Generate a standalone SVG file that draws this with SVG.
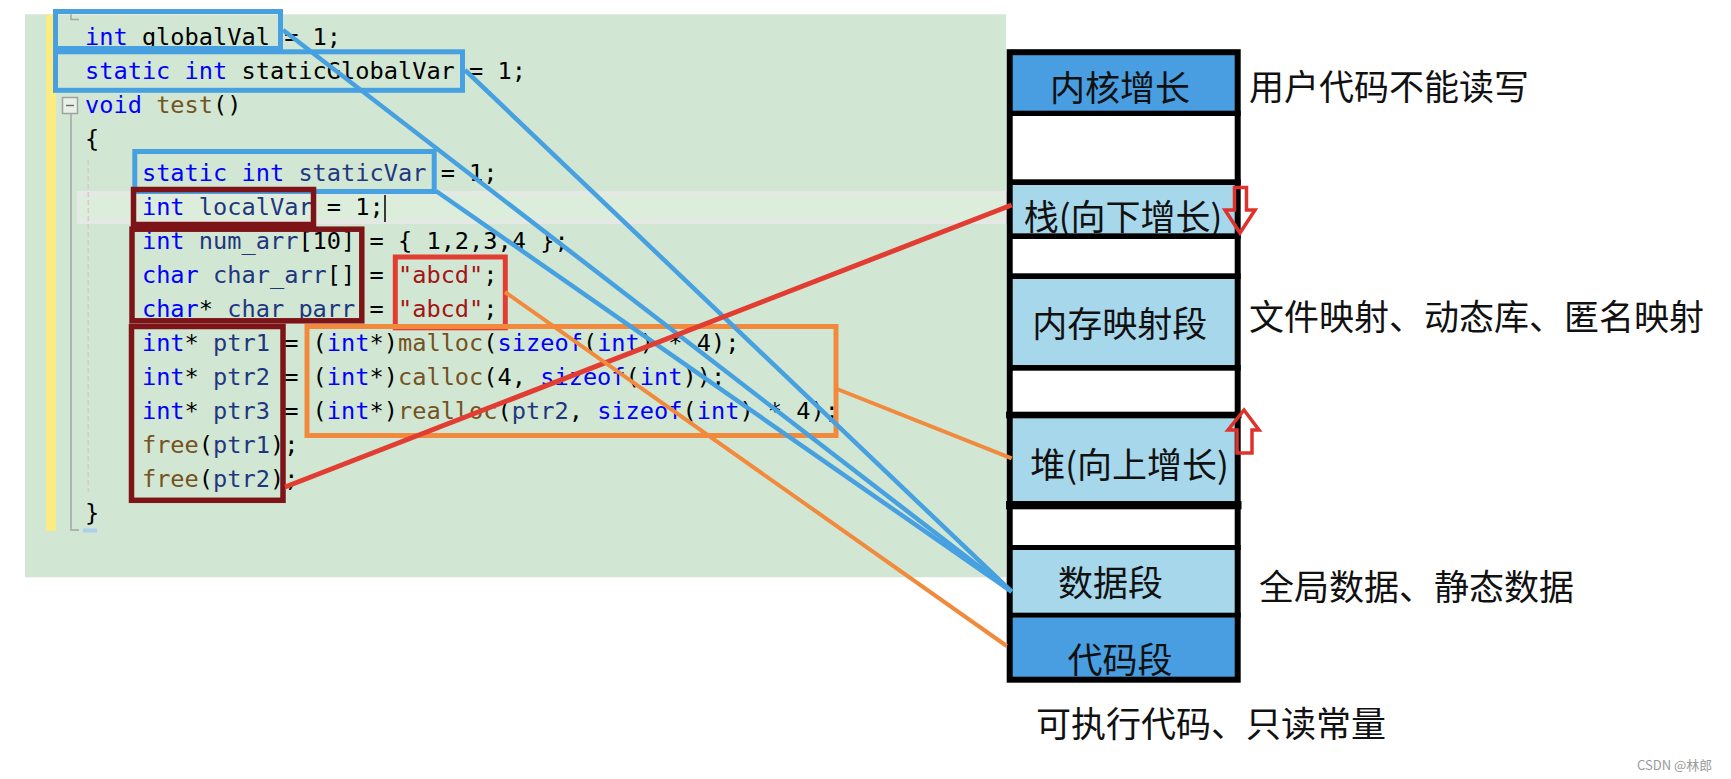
<svg xmlns="http://www.w3.org/2000/svg" width="1731" height="779" viewBox="0 0 1731 779">
<defs>
<style>
.code{font-family:'DejaVu Sans Mono','Liberation Mono',monospace;font-size:23.64px;fill:#000;white-space:pre}
.kw{fill:#0000ff}.fn{fill:#74531f}.var{fill:#1f377f}.str{fill:#a31515}
.cjk{font-family:'Noto Sans CJK SC','Noto Sans',sans-serif;font-size:35px;fill:#111}
.mid{text-anchor:middle}
.hb{fill:none;stroke:#47a0e0;stroke-width:5}
.hd{fill:none;stroke:#7d1518;stroke-width:5.5}
.hr{fill:none;stroke:#e23d33;stroke-width:5}
.ho{fill:none;stroke:#f28a3d;stroke-width:5}
.sep{fill:#000}
.lb{fill:#a7d7ea}
.db{fill:#489ee0}
.cb{stroke:#47a0e0;stroke-width:4.5;fill:none}
.cr{stroke:#e23d33;stroke-width:5;fill:none}
.co{stroke:#f28a3d;stroke-width:4;fill:none}
.grow{fill:none;stroke:#e0322c;stroke-width:3.5;stroke-linejoin:miter}
</style>
</defs>
<rect x="0" y="0" width="1731" height="779" fill="#fff"/>
<g id="editor">
<rect x="25" y="14.3" width="981" height="563" fill="#d2e7d3"/>
<rect x="46" y="14.3" width="10" height="516.5" fill="#fbeb80"/>
<rect x="79" y="193" width="927" height="29" fill="#ddeddc" stroke="#e5e8e5" stroke-width="4"/>
<path d="M71 14.3V19.5H79" fill="none" stroke="#a5a5a5" stroke-width="1.5"/>
<rect x="62.5" y="97.5" width="15" height="16" fill="#e8f0e8" stroke="#a0a0a0" stroke-width="1.5"/>
<path d="M66 105.5H74" stroke="#707070" stroke-width="1.5"/>
<path d="M71 113.5V530H79" fill="none" stroke="#a5a5a5" stroke-width="1.5"/>
<line x1="88.3" y1="160" x2="88.3" y2="492" stroke="#d9c9cd" stroke-width="1.5" stroke-dasharray="5 3"/>
<rect x="83" y="528.5" width="14" height="4" fill="#a9d0ec"/>
<line x1="385" y1="195" x2="385" y2="222" stroke="#000" stroke-width="1.5"/>
</g>
<g id="code" class="code" xml:space="preserve">
<text x="85" y="45"><tspan class="kw">int</tspan> globalVal = 1;</text>
<text x="85" y="79"><tspan class="kw">static</tspan> <tspan class="kw">int</tspan> staticGlobalVar = 1;</text>
<text x="85" y="113"><tspan class="kw">void</tspan> <tspan class="fn">test</tspan>()</text>
<text x="85" y="147">{</text>
<text x="141.92" y="181"><tspan class="kw">static</tspan> <tspan class="kw">int</tspan> <tspan class="var">staticVar</tspan> = 1;</text>
<text x="141.92" y="215"><tspan class="kw">int</tspan> <tspan class="var">localVar</tspan> = 1;</text>
<text x="141.92" y="249"><tspan class="kw">int</tspan> <tspan class="var">num_arr</tspan>[10] = { 1,2,3,4 };</text>
<text x="141.92" y="283"><tspan class="kw">char</tspan> <tspan class="var">char_arr</tspan>[] = <tspan class="str">"abcd"</tspan>;</text>
<text x="141.92" y="317"><tspan class="kw">char</tspan>* <tspan class="var">char_parr</tspan> = <tspan class="str">"abcd"</tspan>;</text>
<text x="141.92" y="351"><tspan class="kw">int</tspan>* <tspan class="var">ptr1</tspan> = (<tspan class="kw">int</tspan>*)<tspan class="fn">malloc</tspan>(<tspan class="kw">sizeof</tspan>(<tspan class="kw">int</tspan>) * 4);</text>
<text x="141.92" y="385"><tspan class="kw">int</tspan>* <tspan class="var">ptr2</tspan> = (<tspan class="kw">int</tspan>*)<tspan class="fn">calloc</tspan>(4, <tspan class="kw">sizeof</tspan>(<tspan class="kw">int</tspan>));</text>
<text x="141.92" y="419"><tspan class="kw">int</tspan>* <tspan class="var">ptr3</tspan> = (<tspan class="kw">int</tspan>*)<tspan class="fn">realloc</tspan>(<tspan class="var">ptr2</tspan>, <tspan class="kw">sizeof</tspan>(<tspan class="kw">int</tspan>) * 4);</text>
<text x="141.92" y="453"><tspan class="fn">free</tspan>(<tspan class="var">ptr1</tspan>);</text>
<text x="141.92" y="487"><tspan class="fn">free</tspan>(<tspan class="var">ptr2</tspan>);</text>
<text x="85" y="521">}</text>
</g>
<g id="box-globalVal"><rect class="hb" x="55.5" y="11.5" width="225" height="37"/></g>
<g id="box-staticGlobalVar"><rect class="hb" x="55.5" y="51.8" width="407" height="38.5"/></g>
<g id="box-staticVar"><rect class="hb" x="134.8" y="151.5" width="299.4" height="40"/></g>
<g id="box-localVar"><rect class="hd" x="133.5" y="189.5" width="180" height="35"/></g>
<g id="box-arrays"><rect class="hd" x="132" y="229.2" width="229.8" height="91.6"/></g>
<g id="box-strings"><rect class="hr" x="395.3" y="257" width="110" height="70.8"/></g>
<g id="box-pointers"><rect class="hd" x="131.5" y="326.5" width="151.5" height="173.8"/></g>
<g id="box-alloc"><rect class="ho" x="307" y="326.5" width="529" height="109"/></g>
<g id="memory">
<g id="seg-kernel"><rect class="db" x="1009" y="52" width="230" height="59"/><text class="cjk mid" x="1120" y="101">内核增长</text></g>
<g id="seg-stack"><rect class="lb" x="1009" y="185" width="230" height="48.5"/><text class="cjk mid" x="1123" y="230.2">栈(向下增长)</text></g>
<g id="seg-mmap"><rect class="lb" x="1009" y="279" width="230" height="86"/><text class="cjk mid" x="1119.7" y="336.8">内存映射段</text></g>
<g id="seg-heap"><rect class="lb" x="1009" y="418" width="230" height="83"/><text class="cjk mid" x="1129.5" y="477.5">堆(向上增长)</text></g>
<g id="seg-data"><rect class="lb" x="1009" y="550" width="230" height="63"/><text class="cjk mid" x="1110.5" y="595.8">数据段</text></g>
<g id="seg-code"><rect class="db" x="1009" y="617.7" width="230" height="62"/><text class="cjk mid" x="1120" y="672.5">代码段</text></g>
<g id="frame">
<rect class="sep" x="1007" y="110.7" width="233.7" height="5.3"/>
<rect class="sep" x="1007" y="179.3" width="233.7" height="5.7"/>
<rect class="sep" x="1007" y="233.3" width="233.7" height="5.7"/>
<rect class="sep" x="1007" y="273.3" width="233.7" height="5.7"/>
<rect class="sep" x="1007" y="365" width="233.7" height="5.7"/>
<rect class="sep" x="1006" y="411.7" width="235.5" height="6.6"/>
<rect class="sep" x="1006" y="501" width="235.5" height="8.3"/>
<rect class="sep" x="1007" y="545" width="233.7" height="5"/>
<rect class="sep" x="1007" y="612.7" width="233.7" height="5"/>
<rect x="1009.7" y="52.2" width="228" height="627.5" fill="none" stroke="#000" stroke-width="6"/>
</g>
<g id="arrow-down"><path class="grow" d="M1234.5 187.5H1246.5V210H1255L1240 233L1225 210H1234.5Z"/></g>
<g id="arrow-up"><path class="grow" d="M1244 410L1259 430H1252V453H1237V430H1228Z"/></g>
</g>
<g id="labels">
<text class="cjk" x="1249" y="100.2">用户代码不能读写</text>
<text class="cjk" x="1249" y="330.2">文件映射、动态库、匿名映射</text>
<text class="cjk" x="1259" y="600.2">全局数据、静态数据</text>
<text class="cjk" x="1036" y="736.8">可执行代码、只读常量</text>
<text x="1637" y="770" font-family="'Noto Sans CJK SC','Noto Sans',sans-serif" font-size="13" fill="#9a9a9a">CSDN @林郎</text>
</g>
<g id="connectors">
<line class="cb" x1="283" y1="30" x2="1011.7" y2="591.7"/>
<line class="cb" x1="465" y1="70" x2="1011.7" y2="591.7"/>
<line class="cb" x1="436" y1="191" x2="1011.7" y2="591.7"/>
<line class="cr" x1="285" y1="487" x2="1011.7" y2="205"/>
<line class="co" x1="837" y1="389" x2="1011.7" y2="458.3"/>
<line class="co" x1="505" y1="292" x2="1006.7" y2="646"/>
</g>
</svg>
